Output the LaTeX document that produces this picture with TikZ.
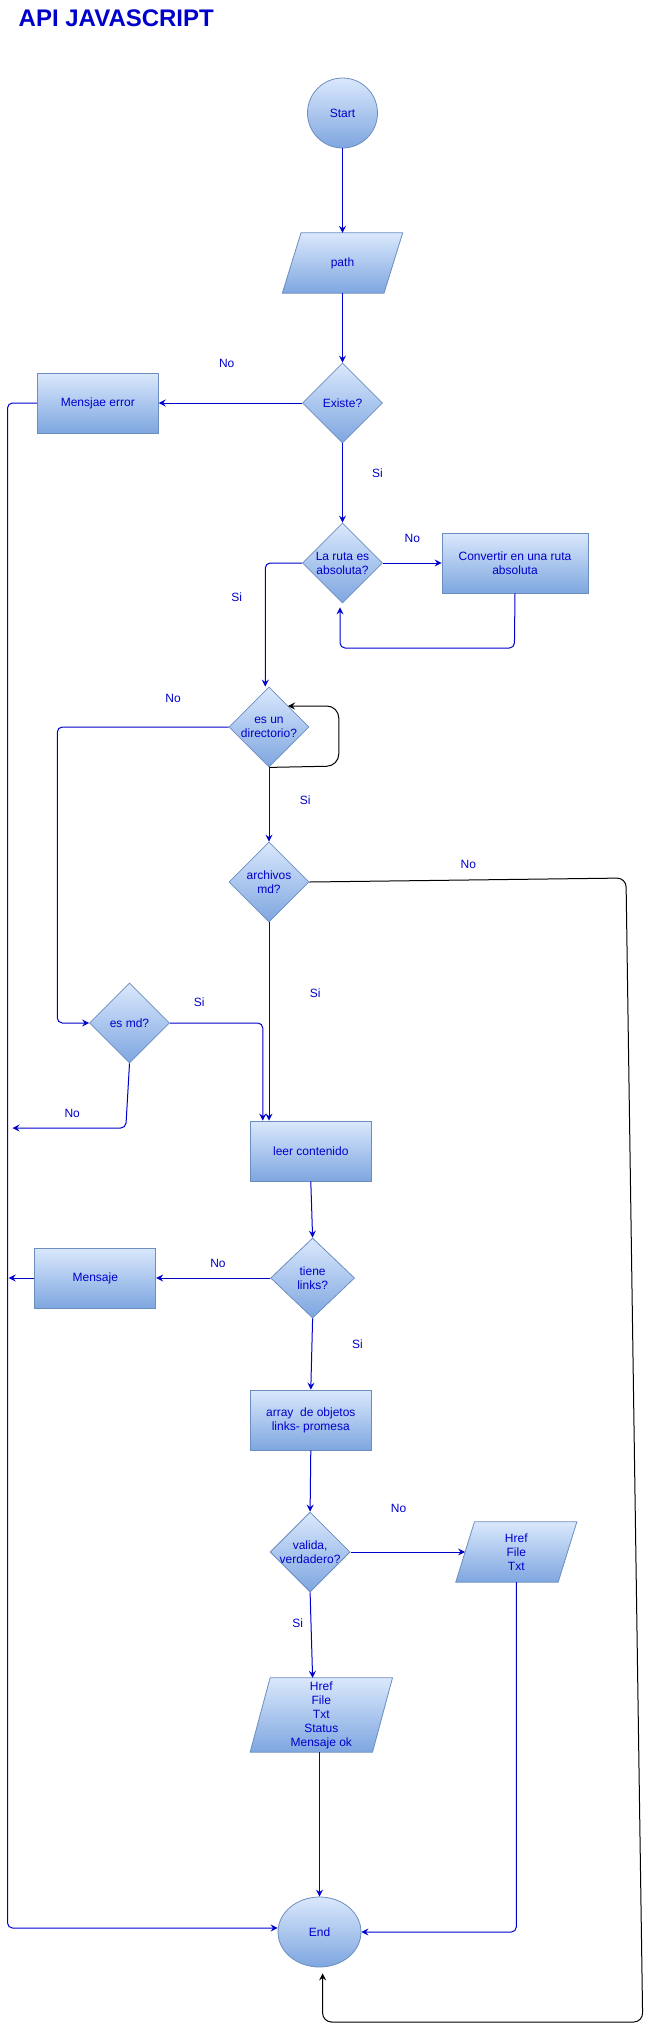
\documentclass[tikz,border=0pt]{standalone}
\usepackage{fontspec}
\setmainfont{Liberation Sans}
\usetikzlibrary{shapes.geometric,arrows.meta,calc}
\definecolor{fillTop}{HTML}{DAE8FC}
\definecolor{fillBot}{HTML}{7EA6E0}
\definecolor{strokeC}{HTML}{6C8EBF}
\definecolor{blueT}{HTML}{0000CC}
\pgfdeclarelayer{bg}
\pgfsetlayers{bg,main}
\tikzset{
  shp/.style={draw=strokeC, top color=fillTop, bottom color=fillBot, line width=0.8pt},
  txt/.style={text=blueT, font=\fontsize{12}{14}\selectfont, align=center, inner sep=0pt},
  box/.style={shp, rectangle, inner sep=0pt, minimum width=121pt, minimum height=60pt},
  dec/.style={shp, diamond, inner sep=0pt, minimum width=80pt, minimum height=80pt},
  oval/.style={shp, ellipse, inner sep=0pt},
  ghost/.style={rectangle, inner sep=0pt},
  conn/.style={draw=blueT, line width=1pt, rounded corners=5pt, -{Stealth[length=7pt,width=7pt,inset=2.5pt]}},
  blk/.style={conn, draw=black},
  lbl/.style={txt}
}
\newcommand\paral[2]{%
  \begin{pgfonlayer}{bg}
  \path[shp] ($(#1.south west)+(-#2,0)$) -- ($(#1.south east)+(-#2,0)$) -- ($(#1.north east)+(#2,0)$) -- ($(#1.north west)+(#2,0)$) -- cycle;
  \end{pgfonlayer}}
\begin{document}
\begin{tikzpicture}[x=1pt,y=-1pt]
\useasboundingbox (0,0) rectangle (651,2030);
% title
\node[anchor=base west, inner sep=0pt, text=blueT, font=\bfseries\fontsize{24}{27}\selectfont] (title) at (18.5,26) {API JAVASCRIPT};
% nodes
\node[oval, minimum width=70pt, minimum height=70pt, label={[txt]center:Start}] (start) at (342.5,113) {};
\node[ghost, minimum width=101.3pt, minimum height=60pt, label={[txt]center:path}] (path) at (342.5,263) {};
\paral{path}{9.35}
\node[dec, label={[txt]center:Existe?}] (existe) at (342.5,403) {};
\node[box, label={[txt]center:Mensjae error}] (merr) at (97.8,403) {};
\node[dec, label={[txt]center:{La ruta es\\absoluta?}}] (laruta) at (342.5,563) {};
\node[box, minimum width=146pt, label={[txt]center:{Convertir en una ruta\\absoluta}}] (conv) at (515,563) {};
\node[dec, label={[txt]center:{es un\\directorio?}}] (dir) at (269,727) {};
\node[dec, label={[txt]center:{archivos\\md?}}] (arch) at (269,882) {};
\node[dec, label={[txt]center:{es md?}}] (esmd) at (129.5,1023) {};
\node[box, label={[txt]center:{leer contenido}}] (leer) at (310.8,1151) {};
\node[dec, minimum width=84pt, label={[txt]center:{tiene\\links?}}] (tiene) at (312.6,1278) {};
\node[box, label={[txt]center:{Mensaje}}] (mens) at (95.3,1278) {};
\node[box, label={[txt]center:{array\ \ de objetos\\links- promesa}}] (array) at (310.8,1420) {};
\node[dec, label={[txt]center:{valida,\\verdadero?}}] (valida) at (310.1,1552) {};
\node[ghost, minimum width=102pt, minimum height=60pt, label={[txt]center:{Href\\File\\Txt}}] (htf) at (516.3,1552) {};
\paral{htf}{9.35}
\node[ghost, minimum width=122pt, minimum height=74pt, label={[txt]center:{Href\\File\\Txt\\Status\\Mensaje ok}}] (href5) at (321.3,1715) {};
\paral{href5}{10}
\node[oval, minimum width=83pt, minimum height=70pt, label={[txt]center:End}] (end) at (319.5,1932) {};
% free ends / bends
\coordinate (errL) at (7.5,403);
\coordinate (errB) at (7.5,1928);
\coordinate (mdNo) at (12.5,1128);
\coordinate (mensL) at (8.7,1278);
% connectors
\draw[conn] (start) -- (path);
\draw[conn] (path) -- (existe);
\draw[conn] (existe.west) -- (merr.east);
\draw[conn] (merr.west) -- (errL) -- (errB) -- (errB -| end.west);
\draw[conn] (existe.south) -- (laruta.north);
\draw[conn] (laruta.east) -- (conv.west);
\draw[conn] (conv.south) -- (514.4,648) -| ($(laruta.south)+(-2.5,4)$);
\draw[conn] (laruta.west) -| ($(dir.north)+(-3.7,0)$);
\draw[blk, rounded corners=12pt] (dir.south) -- (338.8,766) -- (338.8,706) -- (288,706);
\draw[conn] (dir.west) -- (57.3,727) |- (esmd.west);
\draw[conn] (dir.south) -- (arch.north);
\draw[blk, rounded corners=9pt] (arch.east) -- (626,878) -- (642.7,2022) -- (322.6,2022) -- ($(end.south)+(3.1,6)$);
\draw[conn] (arch.south) -- (arch.south |- leer.north);
\draw[conn] (esmd.east) -| ($(leer.north)+(-48,0)$);
\draw[conn] (esmd.south) -- (125.8,1128) -- (mdNo);
\draw[conn] (leer.south) -- (tiene.north);
\draw[conn] (tiene.west) -- (mens.east);
\draw[conn] (mens.west) -- (mensL);
\draw[conn] (tiene.south) -- (array.north);
\draw[conn] (array.south) -- (valida.north);
\draw[conn] (valida.east) -- (htf.west);
\draw[conn] (valida.south) -- ($(href5.north)+(-8.7,0)$);
\draw[conn] (end.north |- href5.south) -- (end.north);
\draw[conn] (htf.south) |- (end.east);
% labels
\node[lbl] (l1) at (226.7,363) {No};
\node[lbl] (l2) at (377.4,473) {Si};
\node[lbl] (l3) at (412.3,538) {No};
\node[lbl] (l4) at (236.6,597) {Si};
\node[lbl] (l5) at (173.1,698) {No};
\node[lbl] (l6) at (305.1,800) {Si};
\node[lbl] (l7) at (468.3,864) {No};
\node[lbl] (l8) at (315.1,993) {Si};
\node[lbl] (l9) at (199.3,1002) {Si};
\node[lbl] (l10) at (72.2,1113) {No};
\node[lbl] (l11) at (218,1263) {No};
\node[lbl] (l12) at (357.5,1344) {Si};
\node[lbl] (l13) at (398.6,1508) {No};
\node[lbl] (l14) at (297.7,1623) {Si};
\end{tikzpicture}
\end{document}
